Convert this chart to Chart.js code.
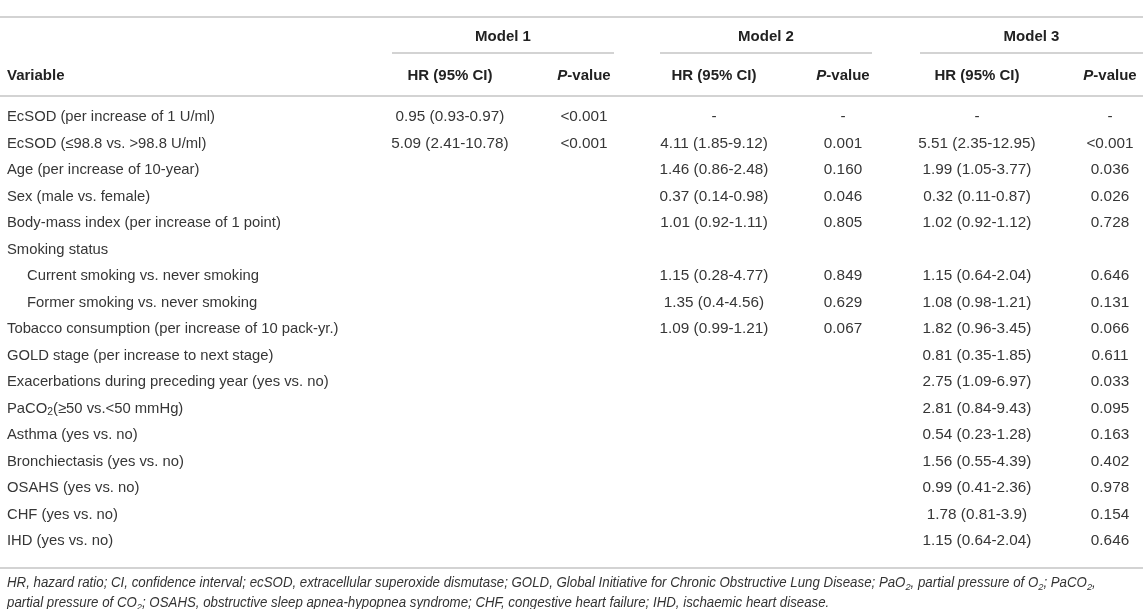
<!DOCTYPE html>
<html>
<head>
<meta charset="utf-8">
<script src="https://cdn.jsdelivr.net/npm/chart.js@4.4.1/dist/chart.umd.min.js"></script>
<style>
  html, body { margin: 0; padding: 0; background: #fff; }
  #wrap { width: 1143px; height: 609px; }
</style>
</head>
<body>
<div id="wrap"><canvas id="hrTable" width="1143" height="609"></canvas></div>
<script>
// table content
const models = ['Model 1', 'Model 2', 'Model 3'];
const colHeads = ['HR (95% CI)', '*P*-value'];
const varHead = 'Variable';

const variables = [
    'EcSOD (per increase of 1 U/ml)',
    'EcSOD (≤98.8 vs. >98.8 U/ml)',
    'Age (per increase of 10-year)',
    'Sex (male vs. female)',
    'Body-mass index (per increase of 1 point)',
    'Smoking status',
    'Current smoking vs. never smoking',
    'Former smoking vs. never smoking',
    'Tobacco consumption (per increase of 10 pack-yr.)',
    'GOLD stage (per increase to next stage)',
    'Exacerbations during preceding year (yes vs. no)',
    'PaCO_2(≥50 vs.<50 mmHg)',
    'Asthma (yes vs. no)',
    'Bronchiectasis (yes vs. no)',
    'OSAHS (yes vs. no)',
    'CHF (yes vs. no)',
    'IHD (yes vs. no)'
];
const subRows = [6, 7]; // rows under "Smoking status"

const m1HR = ['0.95 (0.93-0.97)', '5.09 (2.41-10.78)'];
const m1P = ['<0.001', '<0.001'];
const m2HR = ['-', '4.11 (1.85-9.12)', '1.46 (0.86-2.48)', '0.37 (0.14-0.98)', '1.01 (0.92-1.11)', '',
    '1.15 (0.28-4.77)', '1.35 (0.4-4.56)', '1.09 (0.99-1.21)'];
const m2P = ['-', '0.001', '0.160', '0.046', '0.805', '', '0.849', '0.629', '0.067'];
const m3HR = ['-', '5.51 (2.35-12.95)', '1.99 (1.05-3.77)', '0.32 (0.11-0.87)', '1.02 (0.92-1.12)', '',
    '1.15 (0.64-2.04)', '1.08 (0.98-1.21)', '1.82 (0.96-3.45)', '0.81 (0.35-1.85)', '2.75 (1.09-6.97)',
    '2.81 (0.84-9.43)', '0.54 (0.23-1.28)', '1.56 (0.55-4.39)', '0.99 (0.41-2.36)', '1.78 (0.81-3.9)',
    '1.15 (0.64-2.04)'];
const m3P = ['-', '<0.001', '0.036', '0.026', '0.728', '', '0.646', '0.131', '0.066', '0.611', '0.033',
    '0.095', '0.163', '0.402', '0.978', '0.154', '0.646'];

const footnotes = [
    'HR, hazard ratio; CI, confidence interval; ecSOD, extracellular superoxide dismutase; GOLD, Global Initiative for Chronic Obstructive Lung Disease; PaO_2, partial pressure of O_2; PaCO_2,',
    'partial pressure of CO_2; OSAHS, obstructive sleep apnea-hypopnea syndrome; CHF, congestive heart failure; IHD, ischaemic heart disease.'
];

// layout (in scale units, which match the 1143x609 page)
const L = {
    labelX: 7, indent: 20,
    hrX: [450, 714, 977], pX: [584, 843, 1110],
    spans: [[392, 614], [660, 872], [920, 1143]],
    ruleTop: 17, modelY: 37, spanY: 53, headY: 76, ruleHead: 96,
    rowY: 117, rowStep: 26.5, ruleBottom: 568,
    noteY: [583, 603], noteWidth: [1131, 780]
};

const FONT = '"Liberation Sans", Arial, Helvetica, sans-serif';

// draws text with "_x" subscripts and "*...*" italics
function drawRich(ctx, str, x, y, size, weight, italic, align) {
    const parts = [];
    let i = 0, buf = '', it = italic;
    const push = (t, sub, ital) => { if (t) parts.push({ t, sub, ital }); };
    while (i < str.length) {
        const c = str[i];
        if (c === '_' && i + 1 < str.length) {
            push(buf, false, it); buf = '';
            push(str[i + 1], true, it);
            i += 2; continue;
        }
        if (c === '*') {
            push(buf, false, it); buf = '';
            it = !it; i++; continue;
        }
        buf += c; i++;
    }
    push(buf, false, it);

    const fontFor = p => (p.ital ? 'italic ' : '') + weight + ' ' + (p.sub ? size * 0.7 : size) + 'px ' + FONT;
    let total = 0;
    parts.forEach(p => { ctx.font = fontFor(p); p.w = ctx.measureText(p.t).width; total += p.w; });
    let cx = x;
    if (align === 'center') cx = x - total / 2;
    else if (align === 'right') cx = x - total;
    ctx.textAlign = 'left';
    ctx.textBaseline = 'middle';
    parts.forEach(p => {
        ctx.font = fontFor(p);
        ctx.fillText(p.t, cx, p.sub ? y + size * 0.28 : y);
        cx += p.w;
    });
    return total;
}

function measureRich(ctx, str, size, weight, italic) {
    ctx.save();
    ctx.globalAlpha = 0;
    const w = drawRich(ctx, str, 0, 0, size, weight, italic, 'left');
    ctx.restore();
    return w;
}

const tablePlugin = {
    id: 'tablePlugin',
    afterDraw(chart) {
        const ctx = chart.ctx;
        const xs = chart.scales.x, ys = chart.scales.y;
        const px = v => xs.getPixelForValue(v);
        const py = v => ys.getPixelForValue(v);
        ctx.save();

        // rules
        ctx.strokeStyle = '#c4c4c4';
        ctx.lineWidth = 1.4;
        const hline = (x0, x1, y) => {
            ctx.beginPath();
            ctx.moveTo(px(x0), py(y));
            ctx.lineTo(px(x1), py(y));
            ctx.stroke();
        };
        hline(0, 1143, L.ruleTop);
        hline(0, 1143, L.ruleHead);
        hline(0, 1143, L.ruleBottom);
        L.spans.forEach(s => hline(s[0], s[1], L.spanY));

        // header
        ctx.fillStyle = '#222';
        models.forEach((m, k) => {
            const s = L.spans[k];
            drawRich(ctx, m, px((s[0] + s[1]) / 2), py(L.modelY), 15, 'bold', false, 'center');
            drawRich(ctx, colHeads[0], px(L.hrX[k]), py(L.headY), 15, 'bold', false, 'center');
            drawRich(ctx, colHeads[1], px(L.pX[k]), py(L.headY), 15, 'bold', false, 'center');
        });
        drawRich(ctx, varHead, px(L.labelX), py(L.headY), 15, 'bold', false, 'left');

        // body
        ctx.fillStyle = '#363636';
        const cols = [[m1HR, L.hrX[0]], [m1P, L.pX[0]], [m2HR, L.hrX[1]], [m2P, L.pX[1]], [m3HR, L.hrX[2]], [m3P, L.pX[2]]];
        variables.forEach((v, i) => {
            const y = py(L.rowY + i * L.rowStep);
            const x = L.labelX + (subRows.includes(i) ? L.indent : 0);
            drawRich(ctx, v, px(x), y, 14.8, 'normal', false, 'left');
            cols.forEach(([arr, cx]) => {
                if (arr[i]) drawRich(ctx, arr[i], px(cx), y, 15.3, 'normal', false, 'center');
            });
        });

        // footnotes, condensed italic, one shared horizontal scale
        ctx.fillStyle = '#333';
        const nat = footnotes.map(f => measureRich(ctx, f, 14, 'normal', true));
        const target = (px(L.labelX + L.noteWidth[0]) - px(L.labelX)) + (px(L.labelX + L.noteWidth[1]) - px(L.labelX));
        const sx = target / (nat[0] + nat[1]);
        footnotes.forEach((f, j) => {
            ctx.save();
            ctx.translate(px(L.labelX), py(L.noteY[j]));
            ctx.scale(sx, 1);
            drawRich(ctx, f, 0, 0, 14, 'normal', true, 'left');
            ctx.restore();
        });
        ctx.restore();
    }
};

new Chart(document.getElementById('hrTable'), {
    type: 'scatter',
    data: { datasets: [] },
    options: {
        responsive: false,
        animation: false,
        devicePixelRatio: 1,
        layout: { padding: 0 },
        plugins: { legend: { display: false }, tooltip: { enabled: false } },
        scales: {
            x: { type: 'linear', min: 0, max: 1143, display: false },
            y: { type: 'linear', min: 0, max: 609, reverse: true, display: false }
        }
    },
    plugins: [tablePlugin]
});
</script>
</body>
</html>
